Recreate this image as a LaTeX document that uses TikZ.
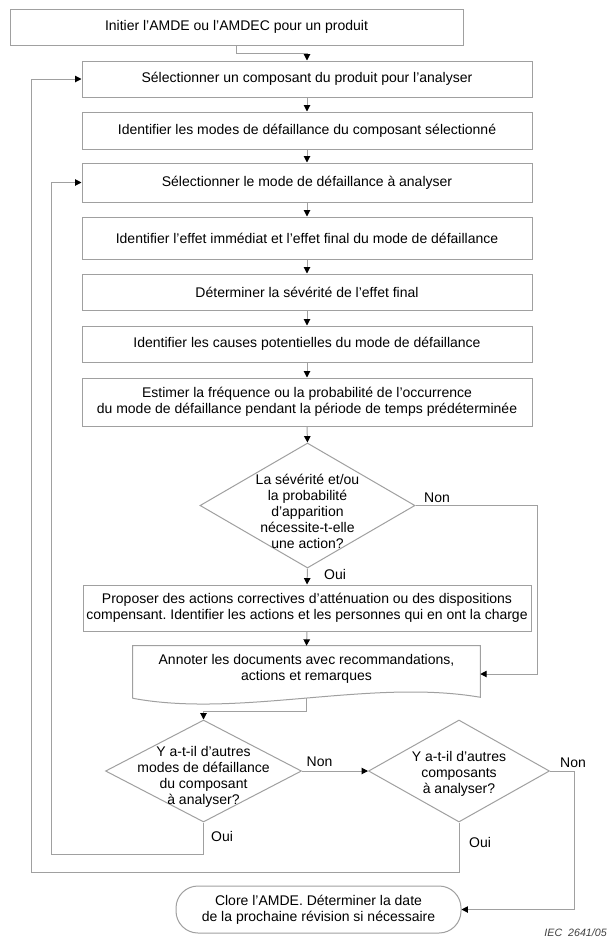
\documentclass[tikz,border=0pt]{standalone}
\usepackage{fontspec}
\setmainfont{Liberation Sans}
\usetikzlibrary{arrows.meta,calc,shapes.geometric}
\definecolor{edgegray}{RGB}{160,160,160}
\frenchspacing
\begin{document}
\begin{tikzpicture}[x=0.75pt,y=-0.75pt,
  every node/.style={font=\fontsize{10.5pt}{12pt}\selectfont, inner sep=0pt, align=center},
  stepbox/.style 2 args={draw=edgegray, line width=0.75pt, fill=white,
    minimum width=#1*0.75pt, minimum height=#2*0.75pt},
  dia/.style 2 args={shape=diamond, draw=edgegray, line width=0.75pt,
    minimum width=#1*0.75pt, minimum height=#2*0.75pt},
  outline/.style={draw=edgegray, line width=0.75pt},
  conn/.style={draw=edgegray, line width=0.75pt,
    -{Triangle[length=4.8pt,width=4.8pt,color=black]}},
  lbl/.style={font=\fontsize{10.5pt}{12pt}\selectfont}]

\fill[white] (0,0) rectangle (608,940);
\useasboundingbox (0,0) rectangle (608,940);

% process steps
\node[stepbox={453}{36}] (b1) at (236.5,27) {Initier l'AMDE ou l'AMDEC pour un produit};
\node[stepbox={450}{36}] (b2) at (307,79) {Sélectionner un composant du produit pour l'analyser};
\node[stepbox={450}{37}] (b3) at (307,130.5) {Identifier les modes de défaillance du composant sélectionné};
\node[stepbox={450}{39}] (b4) at (307,182.5) {Sélectionner le mode de défaillance à analyser};
\node[stepbox={450}{42}] (b5) at (307,238) {Identifier l'effet immédiat et l'effet final du mode de défaillance};
\node[stepbox={450}{36}] (b6) at (307,292) {Déterminer la sévérité de l'effet final};
\node[stepbox={450}{36}] (b7) at (307,344) {Identifier les causes potentielles du mode de défaillance};
\node[stepbox={450}{48}] (b8) at (307,402) {Estimer la fréquence ou la probabilité de l'occurrence\\du mode de défaillance pendant la période de temps prédéterminée};

% first decision
\node[dia={215}{125}] (d1) at (307.5,505.5) {};
\node (d1t) at ($(d1)+(0,6)$) {La sévérité et/ou\\la probabilité\\d'apparition\\nécessite-t-elle\\une action?};

\node[stepbox={448}{46}] (b9) at (307,608) {Proposer des actions correctives d'atténuation ou des dispositions\\compensant. Identifier les actions et les personnes qui en ont la charge};

% document shape
\node[minimum width=347*0.75pt, minimum height=46*0.75pt] (b10) at (306.5,669) {Annoter les documents avec recommandations,\\actions et remarques};
\draw[outline] ($(b10.south west)+(0,6)$) -- (b10.north west) -- (b10.north east)
  -- ($(b10.south east)+(0,5)$)
  .. controls ($(b10.south east)+(-110,-14)$) and ($(b10.south west)+(107,26)$)
  .. ($(b10.south west)+(0,6)$);
\coordinate (docb) at ($(b10.south)+(0,6)$);
\coordinate (docin) at ($(b10.east)+(0,5)$);

% lower decisions
\node[dia={196}{102}] (d2) at (203.5,771) {};
\node (d2t) at ($(d2)+(0,6)$) {Y a-t-il d'autres\\modes de défaillance\\du composant\\à analyser?};
\node[dia={181}{102}] (d3) at (459,771) {};
\node (d3t) at ($(d3)+(0,3)$) {Y a-t-il d'autres\\composants\\à analyser?};

% terminal
\node[draw=edgegray, line width=0.75pt, rounded corners=22*0.75pt,
  minimum width=285*0.75pt, minimum height=47*0.75pt] (t) at (318.5,909.5)
  {Clore l'AMDE. Déterminer la date\\de la prochaine révision si nécessaire};

% connectors
\draw[conn] (b1.south) -- ++(0,8) -| (b2.north);
\draw[conn] (b2) -- (b3);
\draw[conn] (b3) -- (b4);
\draw[conn] (b4) -- (b5);
\draw[conn] (b5) -- (b6);
\draw[conn] (b6) -- (b7);
\draw[conn] (b7) -- (b8);
\draw[conn] (b8.south) -- (d1.north);
\draw[conn] (d1.south) -- (b9.north);
\draw[conn] (b9.south) -- (b10.north);
\draw[conn] (d1.east) -- ++(122,0) |- (docin);
\draw[conn] (docb) -- ++(0,13) -| (d2.north);
\draw[conn] (d2.east) -- (d3.west);
\draw[conn] (d3.east) -- ++(24,0) |- (t.east);
\draw[conn] (d2.south) -- ++(0,32) -| ($(b4.west)+(-30,0)$) -- (b4.west);
\draw[conn] (d3.south) -- ++(0,50) -| ($(b2.west)+(-50,0)$) -- (b2.west);

% branch labels
\node[lbl] (n1) at (437,498) {Non};
\node[lbl] (o1) at (335,574) {Oui};
\node[lbl] (n2) at (319.5,762) {Non};
\node[lbl] (n3) at (573,763) {Non};
\node[lbl] (o2) at (222,836) {Oui};
\node[lbl] (o3) at (480,842) {Oui};

\node[anchor=east, font=\fontsize{8pt}{9pt}\selectfont\itshape, text=black!75] (iec) at (607,933) {IEC\ \ 2641/05};
\end{tikzpicture}
\end{document}
